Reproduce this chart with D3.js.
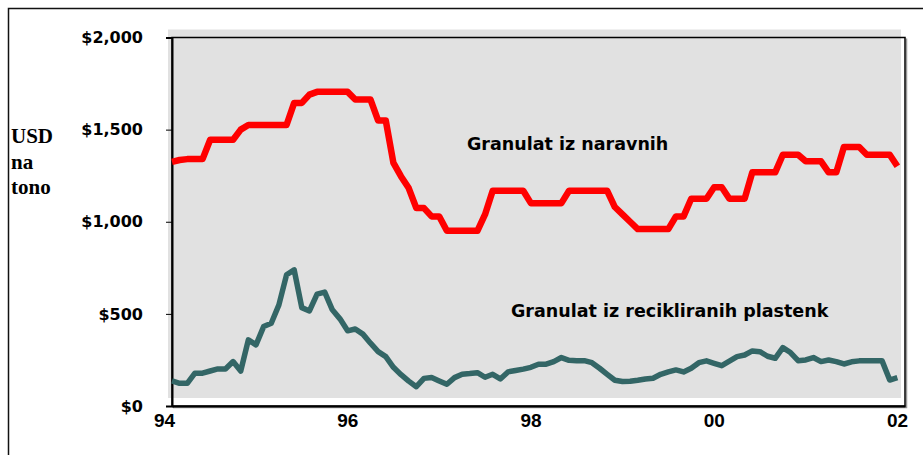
<!DOCTYPE html>
<html>
<head>
<meta charset="utf-8">
<script src="https://cdn.jsdelivr.net/npm/d3@7"></script>
<style>
  body { margin: 0; background: #fff; }
  svg { display: block; }
  .ylab text { font-family: "DejaVu Sans", Verdana, sans-serif; font-weight: bold; font-size: 16px; fill: #000; }
  .xlab text { font-family: "Liberation Sans", Arial, sans-serif; font-weight: bold; font-size: 19px; fill: #000; }
  .note { font-family: "DejaVu Sans", Verdana, sans-serif; font-weight: bold; font-size: 17.5px; fill: #000; }
  .unit { font-family: "Liberation Serif", "Times New Roman", serif; font-weight: bold; font-size: 21px; fill: #000; }
</style>
</head>
<body>
<svg width="923" height="455"></svg>
<script>
// monthly prices, Jan 1994 .. Dec 2001 (USD per tonne)
var startYear = 1994

var virgin = [
  1325, 1335, 1340, 1340, 1340, 1445, 1445, 1445, 1445, 1500, 1525, 1525,
  1525, 1525, 1525, 1525, 1645, 1645, 1690, 1705, 1705, 1705, 1705, 1705,
  1663, 1663, 1663, 1549, 1549, 1319, 1246, 1183, 1074, 1074, 1029, 1029,
  951, 951, 951, 951, 951, 1040, 1168, 1168, 1168, 1168, 1168, 1101,
  1101, 1101, 1101, 1101, 1168, 1168, 1168, 1168, 1168, 1168, 1080, 1040,
  1000, 960, 960, 960, 960, 960, 1029, 1029, 1125, 1125, 1125, 1187,
  1187, 1125, 1125, 1125, 1268, 1268, 1268, 1268, 1364, 1364, 1364, 1328,
  1328, 1328, 1268, 1268, 1406, 1406, 1406, 1364, 1364, 1364, 1364, 1301
]

var recycled = [
  136, 123, 123, 178, 178, 190, 201, 201, 241, 190, 359, 332,
  431, 449, 549, 712, 739, 534, 516, 607, 618, 522, 473, 408,
  418, 390, 341, 295, 268, 210, 170, 135, 105, 150, 155, 136,
  118, 154, 172, 176, 181, 156, 172, 147, 185, 193, 200, 210,
  227, 227, 241, 263, 248, 246, 246, 235, 205, 172, 140, 133,
  134, 140, 147, 151, 172, 185, 196, 185, 205, 235, 245, 232,
  219, 243, 268, 277, 299, 295, 270, 259, 317, 290, 246, 250,
  263, 241, 250, 241, 228, 240, 245, 245, 245, 245, 141, 154
]

var yTicks = [0, 500, 1000, 1500, 2000]
var xTicks = [1994, 1996, 1998, 2000, 2002]
var xTickLabels = ['94', '96', '98', '00', '02']
var labelVirgin = 'Granulat iz naravnih'
var labelRecycled = 'Granulat iz recikliranih plastenk'
var unitLines = ['USD', 'na', 'tono']

var svg = d3.select('svg')

var xScale = d3.scaleLinear().domain([1994, 2002]).range([172, 905])
var yScale = d3.scaleLinear().domain([0, 2000]).range([406, 37.5])

// outer frame (runs off the right and bottom edges)
svg.append('rect')
  .attr('x', 8.5).attr('y', 8.5)
  .attr('width', 1000).attr('height', 1000)
  .attr('fill', 'none')
  .attr('stroke', '#111')
  .attr('stroke-width', 1.5)

var x0 = xScale(1994), x1 = xScale(2002)
var yTop = yScale(2000), yBot = yScale(0)

// grey plot background, offset up/left from the frame
svg.append('rect')
  .attr('x', x0 - 4).attr('y', yTop - 8)
  .attr('width', x1 - x0).attr('height', yBot - yTop)
  .attr('fill', '#e1e1e1')

// frame shadow
svg.append('path')
  .attr('d', `M${x1 + 1.5},${yTop + 1} V${yBot + 1.5} H${x0 + 1}`)
  .attr('fill', 'none')
  .attr('stroke', '#999')
  .attr('stroke-width', 1.5)

svg.append('rect')
  .attr('x', x0).attr('y', yTop)
  .attr('width', x1 - x0).attr('height', yBot - yTop)
  .attr('fill', 'none')
  .attr('stroke', '#000')
  .attr('stroke-width', 1.5)

// y axis
var yAxis = svg.append('g')
  .attr('class', 'ylab')
  .attr('transform', `translate(${x0}, 0)`)
  .call(d3.axisLeft(yScale)
    .tickValues(yTicks)
    .tickSize(6)
    .tickPadding(23)
    .tickFormat(d3.format('$,')))
yAxis.select('.domain').attr('stroke', '#000').attr('stroke-width', 2)
yAxis.selectAll('.tick line').attr('stroke', '#000')

// x axis
var xAxis = svg.append('g')
  .attr('class', 'xlab')
  .attr('transform', `translate(0, ${yBot})`)
  .call(d3.axisBottom(xScale)
    .tickValues(xTicks)
    .tickSize(0)
    .tickPadding(7.5)
    .tickFormat((d, i) => xTickLabels[i]))
xAxis.select('.domain').attr('stroke', '#000').attr('stroke-width', 2)
xAxis.selectAll('.tick text').attr('dx', -8)

var line = d3.line()
  .x((d, i) => xScale(startYear + i / 12))
  .y((d) => yScale(d))

svg.append('path')
  .datum(virgin)
  .attr('d', line)
  .attr('fill', 'none')
  .attr('stroke', '#ff0000')
  .attr('stroke-width', 6.5)
  .attr('stroke-linejoin', 'round')

svg.append('path')
  .datum(recycled)
  .attr('d', line)
  .attr('fill', 'none')
  .attr('stroke', '#336666')
  .attr('stroke-width', 5.5)
  .attr('stroke-linejoin', 'round')

// series labels
svg.append('text')
  .attr('class', 'note')
  .attr('x', 467)
  .attr('y', 150)
  .text(labelVirgin)

svg.append('text')
  .attr('class', 'note')
  .attr('x', 511)
  .attr('y', 317)
  .text(labelRecycled)

// unit title
svg.append('text')
  .attr('class', 'unit')
  .selectAll('tspan')
  .data(unitLines)
  .enter()
  .append('tspan')
  .attr('x', 11)
  .attr('y', (d, i) => 143 + i * 25.5)
  .text((d) => d)
</script>
</body>
</html>
